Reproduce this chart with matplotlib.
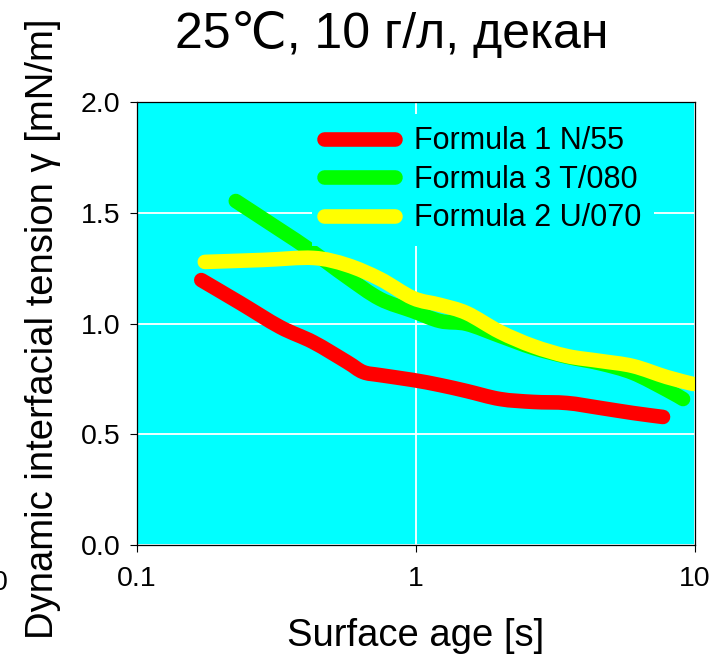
import numpy as np
import matplotlib
matplotlib.use("Agg")
import matplotlib.pyplot as plt
from matplotlib.path import Path
from matplotlib.patches import PathPatch
from matplotlib.lines import Line2D

plt.rcParams['font.family'] = ['Liberation Sans', 'DejaVu Sans']

# Surface age [s] and dynamic interfacial tension [mN/m]
age_n55 = [0.170, 0.234, 0.326, 0.428, 0.566, 0.646, 0.743, 0.975, 1.22, 1.52,
           2.00, 2.63, 3.48, 4.57, 5.99, 7.68]
gamma_n55 = [1.196, 1.093, 0.984, 0.916, 0.826, 0.781, 0.767, 0.745, 0.722, 0.695,
             0.659, 0.646, 0.641, 0.619, 0.596, 0.578]

age_t080 = [0.226, 0.326, 0.417, 0.566, 0.743, 0.975, 1.22, 1.52, 2.00, 2.63,
            3.48, 4.57, 5.99, 7.93, 9.06]
gamma_t080 = [1.553, 1.422, 1.332, 1.210, 1.111, 1.056, 1.011, 0.998, 0.944, 0.890,
              0.850, 0.820, 0.777, 0.700, 0.659]

age_u070 = [0.175, 0.283, 0.428, 0.566, 0.743, 0.975, 1.22, 1.52, 2.00, 2.63,
            3.48, 4.57, 5.99, 7.93, 9.84]
gamma_u070 = [1.278, 1.287, 1.296, 1.264, 1.201, 1.115, 1.084, 1.047, 0.962, 0.898,
              0.853, 0.831, 0.808, 0.758, 0.727]

series = [
    ("Formula 1 N/55", age_n55, gamma_n55, "#ff0000"),
    ("Formula 3 T/080", age_t080, gamma_t080, "#00ff00"),
    ("Formula 2 U/070", age_u070, gamma_u070, "#ffff00"),
]

x_ticks = [0.1, 1, 10]
x_ticklabels = ["0.1", "1", "10"]
y_ticks = [0.0, 0.5, 1.0, 1.5, 2.0]
y_ticklabels = ["0.0", "0.5", "1.0", "1.5", "2.0"]

LW = 10.5


def smooth_path(x, y):
    """Smoothed (Catmull-Rom style) Bezier path through the points,
    built in log-x space so the curve is smooth on the log axis."""
    lx = np.log10(np.asarray(x, float))
    yy = np.asarray(y, float)
    pts = np.column_stack([lx, yy])
    n = len(pts)
    verts = [pts[0]]
    codes = [Path.MOVETO]
    for i in range(n - 1):
        p0 = pts[i - 1] if i > 0 else pts[i]
        p1 = pts[i]
        p2 = pts[i + 1]
        p3 = pts[i + 2] if i + 2 < n else pts[i + 1]
        c1 = p1 + (p2 - p0) / 6.0
        c2 = p2 - (p3 - p1) / 6.0
        verts += [c1, c2, p2]
        codes += [Path.CURVE4] * 3
    verts = np.array(verts)
    verts[:, 0] = 10 ** verts[:, 0]
    return Path(verts, codes)


W, H = 711, 657
fig = plt.figure(figsize=(W / 100, H / 100), dpi=100)
ax = fig.add_axes([137 / W, 1 - 545 / H, (695 - 137) / W, (545 - 102) / H])
ax.set_facecolor("#00ffff")

ax.set_xscale("log")
ax.set_xlim(0.1, 10)
ax.set_ylim(0, 2)

handles = []
for label, x, y, c in series:
    patch = PathPatch(smooth_path(x, y), facecolor="none", edgecolor=c,
                      lw=LW, capstyle="round", joinstyle="round", zorder=3)
    ax.add_patch(patch)
    handles.append(Line2D([], [], color=c, lw=LW, solid_capstyle="round",
                          label=label))

ax.set_xticks(x_ticks)
ax.set_xticklabels(x_ticklabels)
ax.xaxis.set_minor_locator(matplotlib.ticker.NullLocator())
ax.set_yticks(y_ticks)
ax.set_yticklabels(y_ticklabels)

ax.grid(True, color="white", lw=1.3)
ax.set_axisbelow(True)
ax.tick_params(axis="both", direction="out", length=5, width=0.8,
               labelsize=20.5, color="black")
ax.tick_params(axis="y", pad=7)
ax.tick_params(axis="x", pad=10)
for s in ax.spines.values():
    s.set_color("black")
    s.set_linewidth(0.9)

ax.set_xlabel("Surface age [s]", fontsize=27.5, labelpad=19)
ax.set_ylabel("Dynamic interfacial tension γ [mN/m]", fontsize=27.5)
ax.yaxis.set_label_coords(61 / W, 0.5, transform=fig.transFigure)

fig.text(392 / W, 1 - 34 / H, "25℃, 10 г/л, декан", fontsize=36,
         ha="center", va="center")
fig.text(8 / W, 1 - 583 / H, "0", fontsize=20.5, ha="right", va="center")

leg = ax.legend(handles=handles, loc="upper left",
                bbox_to_anchor=(312 / W, 1 - 114 / H),
                bbox_transform=fig.transFigure, fontsize=22,
                frameon=True, facecolor="#00ffff", edgecolor="none",
                framealpha=1, fancybox=False, handlelength=2.3,
                handletextpad=0.65, labelspacing=0.28, borderpad=0.4,
                borderaxespad=0)

fig.savefig("out.png", dpi=100)
